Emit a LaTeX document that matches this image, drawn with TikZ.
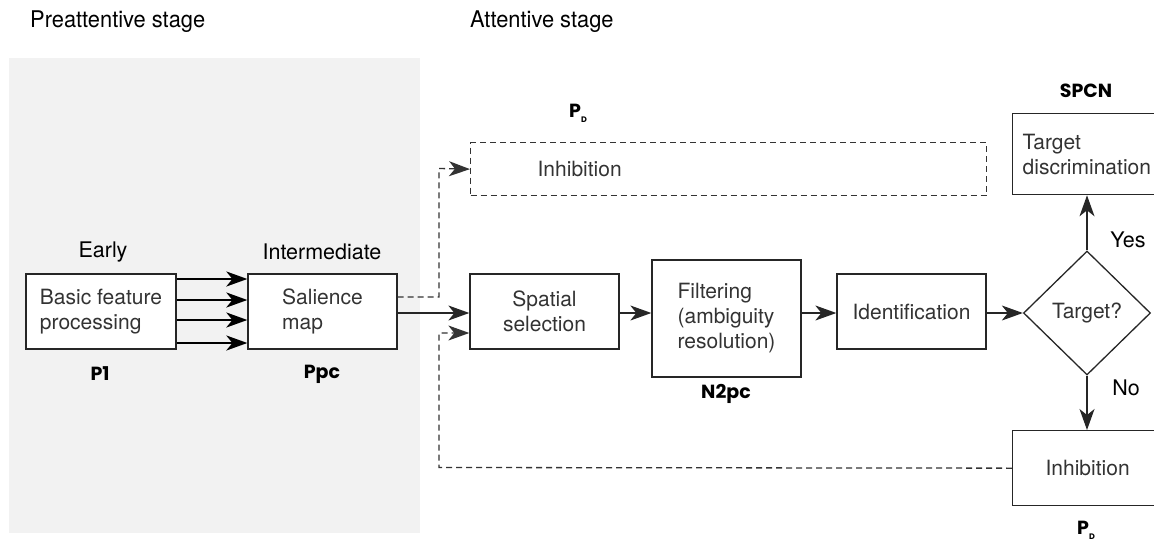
\documentclass[tikz,border=0pt]{standalone}
\usepackage{fontspec}
\usepackage{graphicx}
\setmainfont{TeX Gyre Heros}
\newfontfamily\lblfont{Poppins}
\usetikzlibrary{arrows.meta,shapes.geometric,calc}
\definecolor{panel}{HTML}{F2F2F2}
\definecolor{ink}{HTML}{262626}
\definecolor{dashink}{HTML}{333333}
\definecolor{txt}{HTML}{333333}
\begin{document}
\begin{tikzpicture}[x=1pt,y=-1pt,
  box/.style={draw=ink, line width=1.3pt, fill=white, text=txt, inner sep=0pt,
    font=\fontsize{21}{25}\selectfont},
  dbox/.style={draw=dashink, line width=1.3pt, dash pattern=on 6pt off 4pt, text=txt, inner sep=0pt,
    font=\fontsize{21}{25}\selectfont},
  title/.style={font=\fontsize{23}{26}\selectfont, text=black, inner sep=0pt},
  stagelbl/.style={font=\fontsize{21.5}{24}\selectfont, text=black, inner sep=0pt},
  erp/.style={font=\lblfont\bfseries\fontsize{19}{21}\selectfont, text=black, inner sep=0pt},
  tip/.style={-{Stealth[length=21pt,width=15pt,inset=6pt]}},
  arr/.style={draw=ink, line width=1.3pt, tip},
  thickarr/.style={draw=black, line width=2pt, tip},
  darr/.style={draw=dashink, line width=1.3pt, dash pattern=on 6pt off 4pt, tip},
  dline/.style={draw=dashink, line width=1.3pt, dash pattern=on 6pt off 4pt}
]
\useasboundingbox (0,0) rectangle (1154,541);
\fill[panel] (9,58) rectangle (420,533);

% titles
\node[title, anchor=west] (tpre) at (30,22) {\scalebox{0.95}[1]{Preattentive stage}};
\node[title, anchor=west] (tatt) at (470,22) {\scalebox{0.95}[1]{Attentive stage}};

% preattentive boxes
\node[box, minimum width=150pt, minimum height=75pt, align=left] (early) at (101,311.5) {Basic feature\\processing};
\node[box, minimum width=149pt, minimum height=75pt, align=left] (sal) at (322.5,311.5) {Salience\\map};
\node[stagelbl] (learly) at (103,252) {Early};
\node[stagelbl] (linter) at (322,252) {Intermediate};
\node[erp] (lp1) at (100,374) {P1};
\node[erp] (lppc) at (322,374) {Ppc};

% attentive boxes
\node[box, minimum width=149pt, minimum height=75pt, align=center] (spat) at (544.5,311.5) {Spatial\\selection};
\node[box, minimum width=149pt, minimum height=117pt, align=left] (filt) at (726.5,318.5) {Filtering\\(ambiguity\\resolution)};
\node[box, minimum width=149pt, minimum height=75pt] (ident) at (911.5,311.5) {Identification};
\node[box, diamond, minimum width=127pt, minimum height=124pt] (dec) at (1087,313) {Target?};
\node[box, anchor=north west, minimum height=81pt, text width=130pt, inner xsep=10pt, align=left] (targ) at (1012,113) {Target\\discrimination};
\node[box, anchor=north west, minimum width=150pt, minimum height=75pt] (inh2) at (1012,430) {Inhibition};
\node[dbox, anchor=north west, minimum height=53pt, text width=382pt, inner xsep=67pt, align=left] (inh1) at (470,142) {Inhibition};

\node[erp] (ln2pc) at (726,394) {N2pc};
\node[erp] (lspcn) at (1086,91) {SPCN};
\node[erp] (lpd1) at (578,113) {P\raisebox{-5pt}{\fontsize{8}{9}\selectfont D}};
\node[erp] (lpd2) at (1086,530) {P\raisebox{-5pt}{\fontsize{8}{9}\selectfont D}};
\node[stagelbl] (lyes) at (1128,240) {Yes};
\node[stagelbl] (lno) at (1126,388) {No};

% coordinates
\coordinate (ya) at (0,279);
\coordinate (yb) at (0,300);
\coordinate (yc) at (0,320);
\coordinate (yd) at (0,343);
\coordinate (ym) at (0,313);
\coordinate (yds) at (0,297);
\coordinate (yfb) at (0,333);
\coordinate (jtop) at (439,168.5);
\coordinate (jbot) at (439,467.5);

% connectors
\draw[thickarr] (early.east |- ya) -- (sal.west |- ya);
\draw[thickarr] (early.east |- yb) -- (sal.west |- yb);
\draw[thickarr] (early.east |- yc) -- (sal.west |- yc);
\draw[thickarr] (early.east |- yd) -- (sal.west |- yd);
\draw[arr] (sal.east |- ym) -- (spat.west |- ym);
\draw[darr] (sal.east |- yds) -| (jtop) -- (inh1.west);
\draw[darr] (inh2.west) -- (jbot) |- (spat.west |- yfb);
\draw[arr] (spat.east |- ym) -- (filt.west |- ym);
\draw[arr] (filt.east |- ym) -- (ident.west |- ym);
\draw[arr] (ident.east |- ym) -- (dec.west);
\draw[arr] (dec.north) -- (targ.south -| dec.north);
\draw[arr] (dec.south) -- (inh2.north -| dec.south);
\end{tikzpicture}
\end{document}
